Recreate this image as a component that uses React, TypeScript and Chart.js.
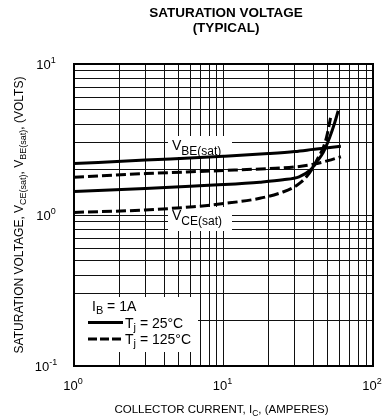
import React, { useEffect, useRef } from "react";
import { Chart, registerables } from "chart.js";

Chart.register(...registerables);

// ---- data ----
const vbeCurrent = [1, 3, 10, 20, 30, 40, 50, 61];
const vbe25 = [2.19, 2.31, 2.45, 2.55, 2.63, 2.72, 2.79, 2.85];
const vbe125 = [1.78, 1.88, 1.97, 2.03, 2.08, 2.17, 2.29, 2.43];

const vce25Current = [1, 3, 6, 10, 17.5, 25, 32, 38, 42, 46.5, 51.5, 55.5, 58.5];
const vce25 = [1.43, 1.5, 1.55, 1.59, 1.65, 1.71, 1.79, 1.98, 2.25, 2.6, 3.3, 4.1, 4.9];

const vce125Current = [1, 3, 6.3, 10, 17.5, 25, 29.3, 33, 36, 39, 42, 46.5, 49, 52];
const vce125 = [1.04, 1.08, 1.135, 1.19, 1.29, 1.42, 1.52, 1.65, 1.8, 2.0, 2.3, 2.8, 3.3, 4.4];

const xGrid = [1, 2, 3, 4, 5, 6, 7, 8, 9, 10, 20, 30, 40, 50, 60, 70, 80, 90, 100];
const yGrid = [0.1, 0.2, 0.3, 0.4, 0.5, 0.6, 0.7, 0.8, 0.9, 1, 2, 3, 4, 5, 6, 7, 8, 9, 10];

const xTickValues = [1, 10, 100];
const xTickExps = ["0", "1", "2"];
const yTickValues = [0.1, 1, 10];
const yTickExps = ["-1", "0", "1"];

const titleLines = ["SATURATION VOLTAGE", "(TYPICAL)"];

const FONT = "'Liberation Sans', Arial, Helvetica, sans-serif";

type Part = { text: string; size: number; bold?: boolean; dy?: number };

function drawParts(
  ctx: CanvasRenderingContext2D,
  parts: Part[],
  x: number,
  y: number,
  align: "left" | "center" | "right"
) {
  let total = 0;
  const widths = parts.map((p) => {
    ctx.font = `${p.bold ? "bold " : ""}${p.size}px ${FONT}`;
    const w = ctx.measureText(p.text).width;
    total += w;
    return w;
  });
  let cx = align === "left" ? x : align === "center" ? x - total / 2 : x - total;
  ctx.textAlign = "left";
  ctx.textBaseline = "alphabetic";
  parts.forEach((p, i) => {
    ctx.font = `${p.bold ? "bold " : ""}${p.size}px ${FONT}`;
    ctx.fillText(p.text, cx, y + (p.dy || 0));
    cx += widths[i];
  });
  return total;
}

const decorPlugin = {
  id: "decor",
  beforeDatasetsDraw(chart: any) {
    const ctx: CanvasRenderingContext2D = chart.ctx;
    const a = chart.chartArea;
    ctx.save();
    // white boxes behind labels & legend
    ctx.fillStyle = "#fff";
    ctx.fillRect(168, 136, 64, 21);
    ctx.fillRect(168, 207, 64, 24);
    ctx.fillRect(a.left + 1, 297, 197 - a.left, 55);

    // frame
    ctx.strokeStyle = "#000";
    ctx.lineWidth = 2;
    ctx.strokeRect(a.left, a.top, a.right - a.left, a.bottom - a.top);

    ctx.fillStyle = "#000";
    // curve labels
    drawParts(ctx, [{ text: "V", size: 14 }, { text: "BE(sat)", size: 12, dy: 5 }], 172, 150, "left");
    drawParts(ctx, [{ text: "V", size: 14 }, { text: "CE(sat)", size: 12, dy: 5 }], 172, 220, "left");

    // legend
    drawParts(ctx, [{ text: "I", size: 14 }, { text: "B", size: 11, dy: 3 }, { text: " = 1A", size: 14 }], 92, 311, "left");
    ctx.lineWidth = 3;
    ctx.beginPath();
    ctx.moveTo(88, 322.5);
    ctx.lineTo(123, 322.5);
    ctx.stroke();
    ctx.setLineDash([9, 3]);
    ctx.beginPath();
    ctx.moveTo(88, 339);
    ctx.lineTo(123, 339);
    ctx.stroke();
    ctx.setLineDash([]);
    drawParts(ctx, [{ text: "T", size: 14 }, { text: "j", size: 11, dy: 3 }, { text: " = 25°C", size: 14 }], 125, 328, "left");
    drawParts(ctx, [{ text: "T", size: 14 }, { text: "j", size: 11, dy: 3 }, { text: " = 125°C", size: 14 }], 125, 344, "left");
    ctx.restore();
  },
  afterDraw(chart: any) {
    const ctx: CanvasRenderingContext2D = chart.ctx;
    const a = chart.chartArea;
    const xs = chart.scales.x;
    const ys = chart.scales.y;
    ctx.save();
    ctx.fillStyle = "#000";
    // title
    drawParts(ctx, [{ text: titleLines[0], size: 13.5, bold: true }], 226, 17, "center");
    drawParts(ctx, [{ text: titleLines[1], size: 13.5, bold: true }], 226, 31.5, "center");

    // x tick labels
    xTickValues.forEach((v, i) => {
      const px = xs.getPixelForValue(v);
      drawParts(ctx, [{ text: "10", size: 13 }, { text: xTickExps[i], size: 9, dy: -6 }], px - 1, 390, "center");
    });
    // y tick labels
    yTickValues.forEach((v, i) => {
      const py = ys.getPixelForValue(v);
      drawParts(ctx, [{ text: "10", size: 13 }, { text: yTickExps[i], size: 9, dy: -6 }], 46, py + 5, "center");
    });

    // x axis title
    drawParts(
      ctx,
      [
        { text: "COLLECTOR CURRENT, I", size: 11.5 },
        { text: "C", size: 8.5, dy: 3 },
        { text: ", (AMPERES)", size: 11.5 },
      ],
      (a.left + a.right) / 2 - 2,
      413,
      "center"
    );

    // y axis title (rotated)
    ctx.translate(19, (a.top + a.bottom) / 2);
    ctx.rotate(-Math.PI / 2);
    drawParts(
      ctx,
      [
        { text: "SATURATION VOLTAGE, V", size: 12 },
        { text: "CE(sat)", size: 9, dy: 3 },
        { text: ", V", size: 12 },
        { text: "BE(sat)", size: 9, dy: 3 },
        { text: ", (VOLTS)", size: 12 },
      ],
      0,
      4,
      "center"
    );
    ctx.restore();
  },
};

function pts(xs: number[], ys: number[]) {
  return xs.map((x, i) => ({ x, y: ys[i] }));
}

export default function App() {
  const ref = useRef<HTMLCanvasElement | null>(null);

  useEffect(() => {
    if (!ref.current) return;
    const common = {
      borderColor: "#000",
      borderWidth: 3,
      pointRadius: 0,
      fill: false,
      cubicInterpolationMode: "monotone" as const,
    };
    const chart = new Chart(ref.current, {
      type: "line",
      data: {
        datasets: [
          { ...common, label: "VBE 25", data: pts(vbeCurrent, vbe25) },
          { ...common, label: "VBE 125", data: pts(vbeCurrent, vbe125), borderDash: [10, 4] },
          { ...common, label: "VCE 25", data: pts(vce25Current, vce25) },
          { ...common, label: "VCE 125", data: pts(vce125Current, vce125), borderDash: [10, 4] },
        ],
      },
      options: {
        animation: false,
        responsive: false,
        devicePixelRatio: 1,
        layout: { padding: { left: 0, right: 14, top: 64, bottom: 0 } },
        plugins: {
          legend: { display: false },
          title: { display: false },
          tooltip: { enabled: false },
        },
        scales: {
          x: {
            type: "logarithmic",
            min: 1,
            max: 100,
            ticks: { display: false, autoSkip: false },
            grid: { color: "#111", lineWidth: 1, drawTicks: false },
            border: { display: false },
            afterBuildTicks: (s: any) => {
              s.ticks = xGrid.map((v) => ({ value: v }));
            },
            afterFit: (s: any) => {
              s.height = 53;
            },
          },
          y: {
            type: "logarithmic",
            min: 0.1,
            max: 10,
            ticks: { display: false, autoSkip: false },
            grid: { color: "#111", lineWidth: 1, drawTicks: false },
            border: { display: false },
            afterBuildTicks: (s: any) => {
              s.ticks = yGrid.map((v) => ({ value: v }));
            },
            afterFit: (s: any) => {
              s.width = 74;
            },
          },
        },
      },
      plugins: [decorPlugin],
    } as any);
    return () => chart.destroy();
  }, []);

  return (
    <div style={{ position: "fixed", left: 0, top: 0, width: 387, height: 419, background: "#fff" }}>
      <canvas ref={ref} width={387} height={419} style={{ display: "block" }} />
    </div>
  );
}
